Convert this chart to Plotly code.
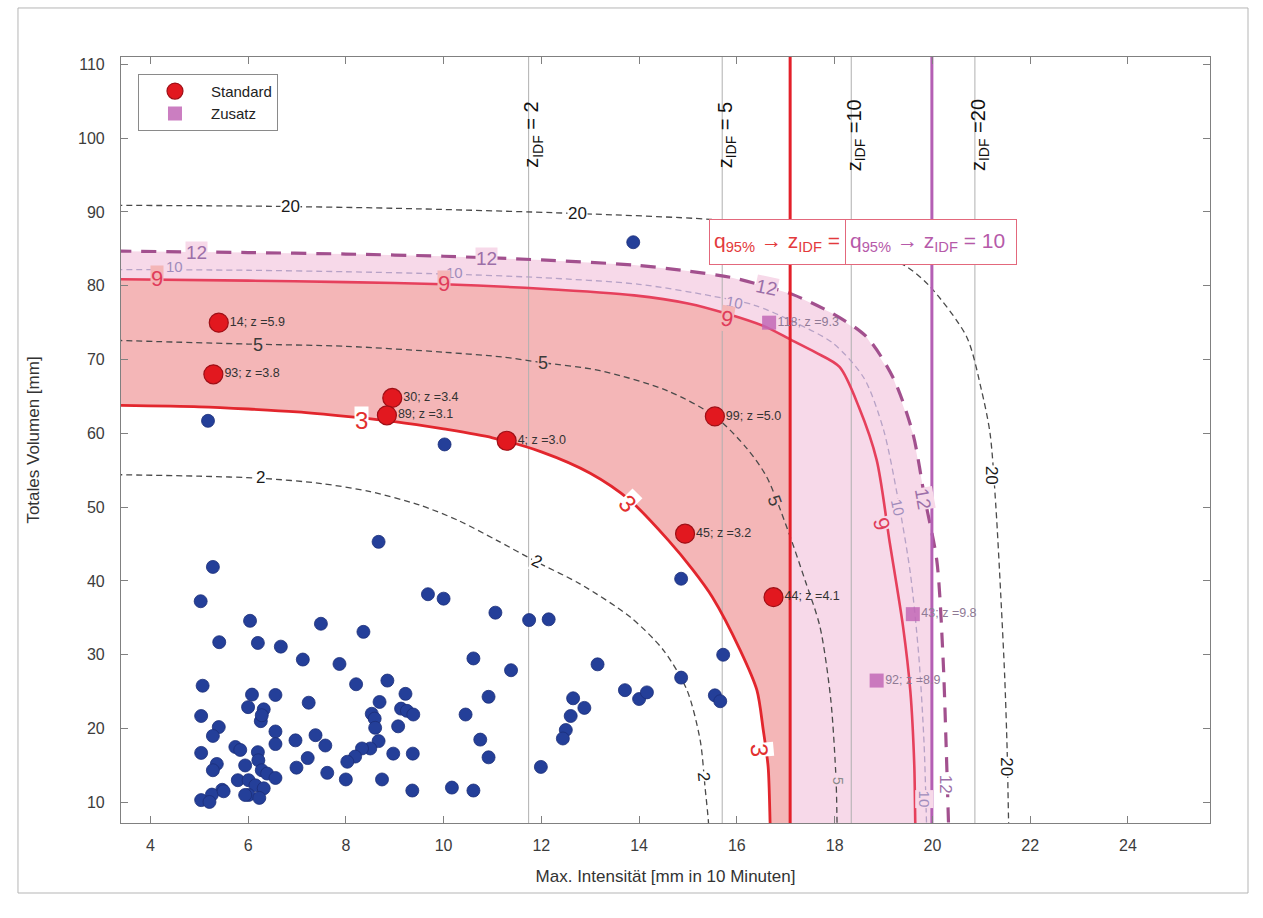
import numpy as np
import plotly.graph_objects as go

# ---------------- axes ----------------
X_RANGE = [3.40, 25.68]
Y_RANGE = [7.2, 111.0]
x_ticks = [4, 6, 8, 10, 12, 14, 16, 18, 20, 22, 24]
y_ticks = [10, 20, 30, 40, 50, 60, 70, 80, 90, 100, 110]

# ---------------- events (blue) ----------------
blue_x = [8.67, 5.28, 5.03, 6.04, 7.49, 8.36, 5.41, 6.20, 6.67, 7.12, 7.87, 5.07, 8.21, 8.85, 9.22,
          6.08, 6.56, 7.24, 8.69, 6.00, 6.32, 6.26, 5.04, 9.13, 8.53, 8.59, 8.60, 9.07, 5.40, 5.28,
          6.56, 6.56, 6.97, 7.38, 7.58, 8.67, 8.50, 8.33, 8.19, 8.03, 5.04, 5.74, 5.84, 6.20, 6.21,
          5.94, 5.36, 5.28, 6.28, 6.39, 6.56, 6.99, 7.22, 7.62, 8.00, 8.74, 8.97, 5.79, 6.01, 6.15,
          6.32, 6.01, 6.23, 5.47, 5.26, 5.04, 5.21, 6.28, 14.86, 15.72, 15.55, 15.66, 14.86, 13.15,
          13.71, 14.00, 14.16, 12.65, 12.88, 12.60, 12.50, 12.44, 11.99, 11.75, 12.15, 11.06, 9.68,
          10.00, 10.61, 11.38, 9.25, 9.38, 9.37, 10.92, 10.45, 10.75, 10.92, 9.36, 10.17, 10.61,
          5.94, 5.50, 5.18, 10.02, 13.88]
blue_y = [45.3, 41.9, 37.25, 34.6, 34.2, 33.1, 31.7, 31.6, 31.1, 29.35, 28.75, 25.8, 26.0, 26.5, 24.7,
          24.6, 24.55, 23.5, 23.6, 22.9, 22.6, 21.0, 21.7, 22.7, 22.0, 21.35, 20.1, 20.3, 20.2, 19.0,
          19.6, 17.9, 18.4, 19.1, 17.7, 18.3, 17.3, 17.3, 16.2, 15.5, 16.7, 17.5, 17.1, 16.8, 15.7,
          15.0, 15.2, 14.35, 14.35, 13.9, 13.3, 14.7, 16.0, 14.0, 13.1, 13.1, 16.6, 13.0, 13.0, 12.3,
          11.9, 11.0, 10.6, 11.7, 11.05, 10.3, 10.05, 21.8, 40.3, 30.0, 24.5, 23.7, 26.9, 28.7,
          25.2, 24.0, 24.9, 24.1, 22.8, 21.7, 19.8, 18.65, 14.8, 34.7, 34.8, 35.7, 38.2,
          37.6, 29.5, 27.9, 22.4, 21.9, 16.6, 24.3, 21.9, 18.5, 16.1, 11.6, 12.0, 11.6,
          11.0, 11.5, 61.7, 58.5, 85.9]

# ---------------- highlighted events ----------------
std_x = [5.40, 5.29, 8.95, 8.84, 11.29, 15.55, 14.94, 16.75]
std_y = [75.0, 68.0, 64.8, 62.45, 59.0, 62.3, 46.4, 37.8]
std_labels = ["14; z =5.9", "93; z =3.8", "30; z =3.4", "89; z =3.1", "4; z =3.0",
              "99; z =5.0", "45; z =3.2", "44; z =4.1"]

zus_x = [16.66, 19.60, 18.86]
zus_y = [75.0, 35.5, 26.5]
zus_labels = ["118; z =9.3", "43; z =9.8", "92; z =8.9"]

# ---------------- iso-lines ----------------
c20_x = [3.3, 6.0, 9.0, 12.7, 15.45, 17.0, 18.4, 19.47, 19.95, 20.7, 21.0, 21.18, 21.3, 21.4, 21.48, 21.53, 21.56, 21.57]
c20_y = [90.9, 90.8, 90.5, 89.8, 89.0, 88.0, 85.6, 82.6, 79.9, 73.1, 66.0, 60.0, 50.0, 38.0, 27.0, 17.0, 7.2, 5.0]

c12_x = [3.3, 6.0, 8.0, 10.0, 12.0, 13.9, 15.0, 15.9, 16.6, 17.15, 17.97, 18.65, 19.2, 19.6, 19.85, 20.09, 20.22, 20.28, 20.33, 20.34]
c12_y = [84.7, 84.5, 84.3, 84.0, 83.5, 82.8, 82.0, 81.1, 79.9, 78.8, 76.2, 73.1, 67.5, 60.0, 51.0, 42.8, 29.3, 18.0, 7.2, 5.0]

c10_x = [3.3, 6.0, 8.0, 10.0, 12.0, 14.0, 15.5, 16.34, 17.2, 17.97, 18.6, 19.0, 19.3, 19.55, 19.72, 19.83, 19.88, 19.89]
c10_y = [82.2, 82.1, 81.9, 81.6, 81.1, 80.2, 78.6, 77.4, 75.0, 72.2, 67.5, 60.5, 51.0, 41.0, 30.0, 18.0, 7.2, 5.0]

c9_x = [3.3, 6.0, 8.0, 10.0, 12.0, 13.9, 15.0, 15.8, 16.6, 17.1, 17.6, 18.1, 18.5, 18.86, 19.13, 19.4, 19.55, 19.63, 19.65, 19.66]
c9_y = [80.9, 80.7, 80.5, 80.2, 79.6, 78.7, 77.6, 76.2, 74.4, 72.7, 71.0, 69.0, 63.5, 56.4, 45.1, 33.8, 25.0, 15.0, 7.2, 5.0]

c5_x = [3.3, 6.0, 8.0, 10.0, 11.2, 12.0, 13.2, 14.57, 15.55, 16.2, 16.61, 17.02, 17.4, 17.7, 17.92, 18.03, 18.05, 18.06]
c5_y = [72.6, 72.1, 71.8, 71.0, 70.35, 69.6, 68.5, 65.8, 62.3, 58.0, 54.1, 47.3, 40.0, 33.8, 24.0, 13.0, 7.2, 5.0]

c3_x = [3.3, 5.0, 6.0, 7.0, 8.0, 9.0, 10.0, 11.0, 12.0, 13.0, 13.8, 14.6, 15.1, 15.5, 16.07, 16.41, 16.54, 16.64, 16.68, 16.69]
c3_y = [63.8, 63.6, 63.3, 62.9, 62.3, 61.6, 60.6, 59.4, 57.5, 54.6, 51.0, 45.5, 41.5, 37.8, 30.6, 25.2, 19.8, 14.8, 7.2, 5.0]

c2_x = [3.3, 5.0, 6.3, 7.5, 8.5, 9.5, 10.3, 11.09, 11.9, 12.79, 13.82, 14.5, 14.98, 15.25, 15.35, 15.42, 15.43]
c2_y = [54.4, 54.2, 53.9, 53.2, 52.1, 50.3, 48.2, 45.5, 42.6, 39.6, 35.1, 30.6, 25.2, 18.4, 12.0, 7.2, 5.0]

# iso-line labels: (text, x, y, angle)
lab20 = [("20", 6.86, 90.75, 0), ("20", 12.73, 89.8, 0), ("20", 21.21, 54.3, 90), ("20", 21.5, 14.8, 90)]
lab12 = [("12", 4.95, 84.5, 0), ("12", 10.88, 83.7, 0), ("12", 16.61, 79.8, 12), ("12", 19.81, 51.2, 80), ("12", 20.26, 12.5, 90)]
lab10 = [("10", 4.50, 82.6, 0), ("10", 10.22, 81.8, 0), ("10", 15.96, 77.7, 10), ("10", 19.3, 50.0, 78), ("10", 19.83, 10.5, 90)]
lab9 = [("9", 4.14, 81.0, 0), ("9", 10.0, 80.3, 0), ("9", 15.79, 75.6, 10), ("9", 18.96, 47.8, 75)]
lab5 = [("5", 6.21, 72.0, 0), ("5", 12.04, 69.6, 0), ("5", 16.78, 50.9, 70), ("5", 18.07, 12.9, 90)]
lab3 = [("3", 8.33, 61.8, 0), ("3", 13.77, 50.5, 45), ("3", 16.47, 17.05, 85)]
lab2 = [("2", 6.25, 54.0, 0), ("2", 11.9, 42.6, 25), ("2", 15.32, 13.5, 85)]

# vertical reference lines
zidf_x = [11.74, 15.70, 18.34, 20.87]
zidf_labels = ["z<sub>IDF</sub> = 2", "z<sub>IDF</sub> = 5", "z<sub>IDF</sub> =10", "z<sub>IDF</sub> =20"]
Q_STD = 17.09
Q_ZUS = 19.99

# ---------------- styling ----------------
FONT = "Arial, Liberation Sans, sans-serif"
SALMON = "#f4b6b7"
PINK = "#f7d9e9"
Y_BOT = 5.0
Y_TOP = 120.0
X_LEFT = 3.3

fig = go.Figure()

def add_fill(xs, ys, color):
    fig.add_trace(go.Scatter(x=xs, y=ys, mode="lines", line=dict(width=0), fill="toself",
                             fillcolor=color, hoverinfo="skip", showlegend=False))

# pink region: below iso-line 12, left of q95 (Zusatz)
a12x, a12y = np.array(c12_x), np.array(c12_y)
m = a12x < Q_ZUS
y_cut12 = float(np.interp(Q_ZUS, a12x, a12y))
add_fill([X_LEFT] + list(a12x[m]) + [Q_ZUS, Q_ZUS, X_LEFT],
         [Y_BOT] + list(a12y[m]) + [y_cut12, Y_BOT, Y_BOT], PINK)

# salmon region: below iso-line 9, left of q95 (Standard)
a9x, a9y = np.array(c9_x), np.array(c9_y)
m = a9x < Q_STD
y_cut9 = float(np.interp(Q_STD, a9x, a9y))
add_fill([X_LEFT] + list(a9x[m]) + [Q_STD, Q_STD, X_LEFT],
         [Y_BOT] + list(a9y[m]) + [y_cut9, Y_BOT, Y_BOT], SALMON)

# white region below iso-line 3
add_fill([X_LEFT] + c3_x + [X_LEFT], [Y_BOT] + c3_y + [Y_BOT], "#ffffff")

# z_IDF lines
for zx in zidf_x:
    fig.add_trace(go.Scatter(x=[zx, zx], y=[Y_BOT, Y_TOP], mode="lines",
                             line=dict(color="#b0b0b0", width=1), hoverinfo="skip", showlegend=False))

def add_line(xs, ys, color, width, dash=None):
    fig.add_trace(go.Scatter(x=xs, y=ys, mode="lines",
                             line=dict(color=color, width=width, dash=dash, shape="spline", smoothing=0.8),
                             hoverinfo="skip", showlegend=False))

add_line(c20_x, c20_y, "#4a4a4a", 1.3, "6px,4px")
add_line(c5_x, c5_y, "#4a4a4a", 1.3, "6px,4px")
add_line(c2_x, c2_y, "#4a4a4a", 1.3, "6px,4px")
add_line(c10_x, c10_y, "#b7a2c6", 1.3, "6px,4px")
add_line(c12_x, c12_y, "#a2508e", 3.2, "15px,10px")
add_line(c9_x, c9_y, "#e6405c", 2.6)
add_line(c3_x, c3_y, "#e2262d", 2.8)

# q95 lines
fig.add_trace(go.Scatter(x=[Q_STD, Q_STD], y=[Y_BOT, Y_TOP], mode="lines",
                         line=dict(color="#e3202a", width=3), hoverinfo="skip", showlegend=False))
fig.add_trace(go.Scatter(x=[Q_ZUS, Q_ZUS], y=[Y_BOT, Y_TOP], mode="lines",
                         line=dict(color="#b45fb4", width=3), hoverinfo="skip", showlegend=False))

# blue events
fig.add_trace(go.Scatter(x=blue_x, y=blue_y, mode="markers",
                         marker=dict(color="#243f99", size=13, line=dict(color="#1c2f78", width=0.8)),
                         hoverinfo="skip", showlegend=False))

# labels for highlighted events (separate so the legend shows only symbols)
fig.add_trace(go.Scatter(x=std_x, y=std_y, mode="markers+text", text=std_labels,
                         textposition="middle right",
                         textfont=dict(family=FONT, size=12.5, color="#333333"),
                         marker=dict(size=16, opacity=0), hoverinfo="skip", showlegend=False))
fig.add_trace(go.Scatter(x=zus_x, y=zus_y, mode="markers+text", text=zus_labels,
                         textposition="middle right",
                         textfont=dict(family=FONT, size=12.5, color="#8f7a95"),
                         marker=dict(size=12, opacity=0), hoverinfo="skip", showlegend=False))

fig.add_trace(go.Scatter(x=std_x, y=std_y, mode="markers", name="Standard",
                         marker=dict(color="#e2181f", size=19, line=dict(color="#9e0f16", width=1.2)),
                         hoverinfo="skip"))
fig.add_trace(go.Scatter(x=zus_x, y=zus_y, mode="markers", name="Zusatz",
                         marker=dict(color="#c267b6", size=14, symbol="square", opacity=0.85,
                                     line=dict(color="#c267b6", width=0)),
                         hoverinfo="skip"))

annotations = []

def add_labels(labels, color, size, bgs):
    for (t, x, y, ang), bg in zip(labels, bgs):
        annotations.append(dict(x=x, y=y, xref="x", yref="y", text=t, showarrow=False,
                                textangle=ang, bgcolor=bg, borderpad=0,
                                font=dict(family=FONT, size=size, color=color)))

add_labels(lab20, "#1a1a1a", 17, ["#ffffff"] * 4)
add_labels(lab5[:3], "#3a3a3a", 18, [SALMON, SALMON, SALMON])
add_labels(lab5[3:], "#8a8a8a", 14, [PINK])
add_labels(lab2, "#1a1a1a", 17, ["#ffffff"] * 3)
add_labels(lab12[:4], "#9c6fa8", 19, [PINK] * 4)
add_labels(lab12[4:], "#9c6fa8", 17, ["#ffffff"])
add_labels(lab10, "#a08cbc", 15, [PINK] * 5)
add_labels(lab9, "#e03c5a", 22, [SALMON, SALMON, SALMON, PINK])
add_labels(lab3, "#e2302f", 24, ["#ffffff", "#ffffff", "#ffffff"])

# z_IDF texts
for zx, t in zip(zidf_x, zidf_labels):
    annotations.append(dict(x=zx + 0.08, y=100.4, xref="x", yref="y", text=t, showarrow=False,
                            textangle=-90, font=dict(family=FONT, size=20, color="#111111")))

# q95 boxes
annotations.append(dict(x=15.43, y=85.9, xref="x", yref="y", xanchor="left", yanchor="middle",
                        text="q<sub>95%</sub> → z<sub>IDF</sub> = 5", showarrow=False, align="left",
                        width=186, height=36, borderpad=4, bgcolor="#ffffff",
                        bordercolor="#e3687c", borderwidth=1,
                        font=dict(family=FONT, size=21, color="#e33a3c")))
annotations.append(dict(x=18.21, y=85.9, xref="x", yref="y", xanchor="left", yanchor="middle",
                        text="q<sub>95%</sub> → z<sub>IDF</sub> = 10", showarrow=False, align="left",
                        width=162, height=36, borderpad=4, bgcolor="#ffffff",
                        bordercolor="#e3687c", borderwidth=1,
                        font=dict(family=FONT, size=21, color="#b65aa9")))

# outer frame
shapes = [dict(type="rect", xref="paper", yref="paper", x0=-0.0946, x1=1.0349, y0=-0.0914, y1=1.0640,
               line=dict(color="#b5b5b5", width=1), fillcolor="rgba(0,0,0,0)", layer="above")]

axis_common = dict(showgrid=False, zeroline=False, showline=True, linecolor="#808080", linewidth=1.2,
                   mirror="ticks", ticks="inside", ticklen=7, tickcolor="#808080", tickwidth=1,
                   tickfont=dict(family=FONT, size=16, color="#3c3c3c"))

fig.update_layout(
    width=1263, height=918,
    margin=dict(l=121, r=53, t=57, b=95),
    paper_bgcolor="#ffffff", plot_bgcolor="#ffffff",
    xaxis=dict(range=X_RANGE, tickvals=x_ticks, ticktext=[str(v) for v in x_ticks],
               ticklabelstandoff=8,
               title=dict(text="Max. Intensität [mm in 10 Minuten]", standoff=16,
                          font=dict(family=FONT, size=17, color="#333333")),
               **axis_common),
    yaxis=dict(range=Y_RANGE, tickvals=y_ticks, ticktext=[str(v) for v in y_ticks],
               ticklabelstandoff=12,
               title=dict(text="Totales Volumen [mm]", standoff=34,
                          font=dict(family=FONT, size=17, color="#333333")),
               **axis_common),
    legend=dict(x=0.0156, y=0.978, xanchor="left", yanchor="top", bgcolor="#ffffff",
                bordercolor="#8a8a8a", borderwidth=1, font=dict(family=FONT, size=15, color="#222222"),
                itemwidth=62, tracegroupgap=0),
    annotations=annotations,
    shapes=shapes,
    showlegend=True,
)

fig.write_html("out.html")
